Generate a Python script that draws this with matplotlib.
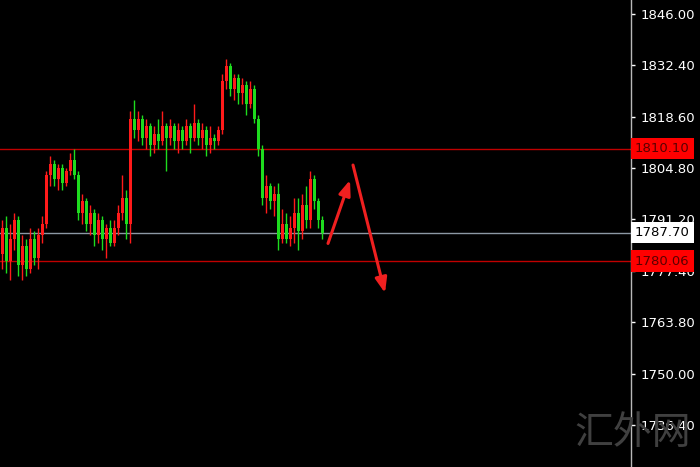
import matplotlib
matplotlib.use("Agg")
import matplotlib.pyplot as plt
import matplotlib.transforms as mtransforms
import numpy as np

# ── Candle data (price) ──────────────────────────────────────────────────────
opens = [1782, 1789, 1780, 1786, 1791, 1779, 1784, 1778, 1786, 1781, 1787, 1790,
         1803, 1806, 1802, 1805, 1801, 1804, 1807, 1803, 1793, 1796, 1790, 1793,
         1787, 1791, 1786, 1789, 1785, 1789, 1793, 1797, 1790, 1818, 1815, 1818,
         1813, 1816, 1811, 1814, 1812, 1816, 1813, 1816, 1812, 1815, 1812, 1816,
         1813, 1817, 1813, 1815, 1811, 1813, 1812, 1815, 1828, 1832, 1826, 1829,
         1825, 1827, 1822, 1826, 1818, 1810, 1797, 1800, 1796, 1798, 1786, 1790,
         1786, 1789, 1793, 1788, 1795, 1791, 1802, 1796, 1791]
closes = [1789, 1780, 1786, 1791, 1779, 1784, 1778, 1786, 1781, 1787, 1790, 1803,
          1806, 1802, 1805, 1801, 1804, 1807, 1803, 1793, 1796, 1790, 1793, 1787,
          1791, 1786, 1789, 1785, 1789, 1793, 1797, 1790, 1818, 1815, 1818, 1813,
          1816, 1811, 1814, 1812, 1816, 1813, 1816, 1812, 1815, 1812, 1816, 1813,
          1817, 1813, 1815, 1811, 1813, 1812, 1815, 1828, 1832, 1826, 1829, 1825,
          1827, 1822, 1826, 1818, 1810, 1797, 1800, 1796, 1798, 1786, 1790, 1786,
          1789, 1793, 1788, 1795, 1791, 1802, 1796, 1791, 1787.7]
highs = [1791, 1792, 1790, 1793, 1792, 1787, 1786, 1789, 1788, 1789, 1792, 1804,
         1808, 1807, 1806, 1806, 1805, 1809, 1810, 1804, 1798, 1797, 1795, 1794,
         1793, 1792, 1790, 1791, 1791, 1795, 1803, 1799, 1820, 1823, 1820, 1819,
         1818, 1817, 1816, 1818, 1820, 1817, 1818, 1817, 1817, 1816, 1818, 1817,
         1822, 1818, 1817, 1816, 1816, 1814, 1816, 1830, 1834, 1833, 1830, 1830,
         1829, 1828, 1828, 1827, 1819, 1811, 1803, 1801, 1800, 1801, 1794, 1793,
         1792, 1797, 1797, 1798, 1800, 1804, 1803, 1797, 1792]
lows = [1778, 1777, 1775, 1783, 1776, 1775, 1776, 1777, 1779, 1778, 1785, 1789,
        1800, 1800, 1799, 1799, 1800, 1803, 1802, 1791, 1790, 1788, 1787, 1784,
        1785, 1783, 1781, 1784, 1784, 1787, 1791, 1786, 1785, 1813, 1812, 1811,
        1810, 1808, 1809, 1810, 1811, 1804, 1811, 1810, 1809, 1810, 1811, 1809,
        1812, 1811, 1810, 1808, 1809, 1810, 1811, 1814, 1826, 1824, 1823, 1822,
        1822, 1819, 1821, 1817, 1808, 1795, 1793, 1794, 1792, 1783, 1785, 1785,
        1784, 1785, 1783, 1786, 1789, 1789, 1794, 1789, 1786]

y_ticks = [1736.40, 1750.00, 1763.80, 1777.40, 1791.20, 1804.80, 1818.60, 1832.40, 1846.00]
resistance = 1810.10
support = 1780.06
last_price = 1787.70

# arrows (candle index, price)
arrow_up = ((81.5, 1784.8), (87.0, 1801.7))
arrow_down = ((87.75, 1805.7), (95.75, 1771.6))

UP = "#ff1a1a"
DOWN = "#1edc1e"

# ── Plot ─────────────────────────────────────────────────────────────────────
fig = plt.figure(figsize=(7, 4.67), dpi=100)
fig.patch.set_facecolor("black")
ax = fig.add_axes([0, 0, 631 / 700, 1])
ax.set_facecolor("black")

x = np.arange(len(opens))
body = [abs(c - o) if c != o else 0.3 for o, c in zip(opens, closes)]
bottom = [min(o, c) for o, c in zip(opens, closes)]
cols = [UP if c >= o else DOWN for o, c in zip(opens, closes)]

ax.vlines(x, lows, highs, colors=cols, linewidth=1.0, zorder=3)
ax.bar(x, body, bottom=bottom, width=0.75, color=cols, linewidth=0, zorder=3)

ax.axhline(resistance, color="#c00000", linewidth=1.0, zorder=2)
ax.axhline(support, color="#c00000", linewidth=1.0, zorder=2)
ax.axhline(last_price, color="#8c98a4", linewidth=1.0, zorder=2)

for tail, head in (arrow_up, arrow_down):
    ax.annotate("", xy=head, xytext=tail,
                arrowprops=dict(arrowstyle="-|>,head_length=0.9,head_width=0.35",
                                color="#f02020", lw=2.2, shrinkA=0, shrinkB=0),
                zorder=4)

ax.set_xlim(-0.5, -0.5 + 631 / 4)
ax.set_ylim(1725.2, 1849.7)

ax.yaxis.tick_right()
ax.set_yticks(y_ticks)
ax.set_yticklabels([f"{v:.2f}" for v in y_ticks])
ax.tick_params(axis="y", colors="white", labelcolor="white", labelsize=9.5,
               length=3, width=1, pad=4, direction="out")
ax.set_xticks([])
for s in ["top", "left", "bottom"]:
    ax.spines[s].set_visible(False)
ax.spines["right"].set_color("#b8b8b8")
ax.spines["right"].set_linewidth(1)

trans = mtransforms.blended_transform_factory(ax.transAxes, ax.transData)
for val, fc, tc in [(resistance, "#ff0000", "#5a0000"),
                    (last_price, "white", "black"),
                    (support, "#ff0000", "#5a0000")]:
    ax.text(1.006, val, f"{val:.2f}", transform=trans, va="center", ha="left",
            fontsize=9.5, color=tc, clip_on=False, zorder=10,
            bbox=dict(boxstyle="square,pad=0.32", facecolor=fc, edgecolor="none"))

fig.text(633 / 700, 1 - 433 / 467, "汇外网", color="#404040", fontsize=28,
         ha="center", va="center", family=["Noto Sans CJK SC", "DejaVu Sans"])

fig.savefig("out.png", dpi=100, facecolor=fig.get_facecolor())
plt.close(fig)
